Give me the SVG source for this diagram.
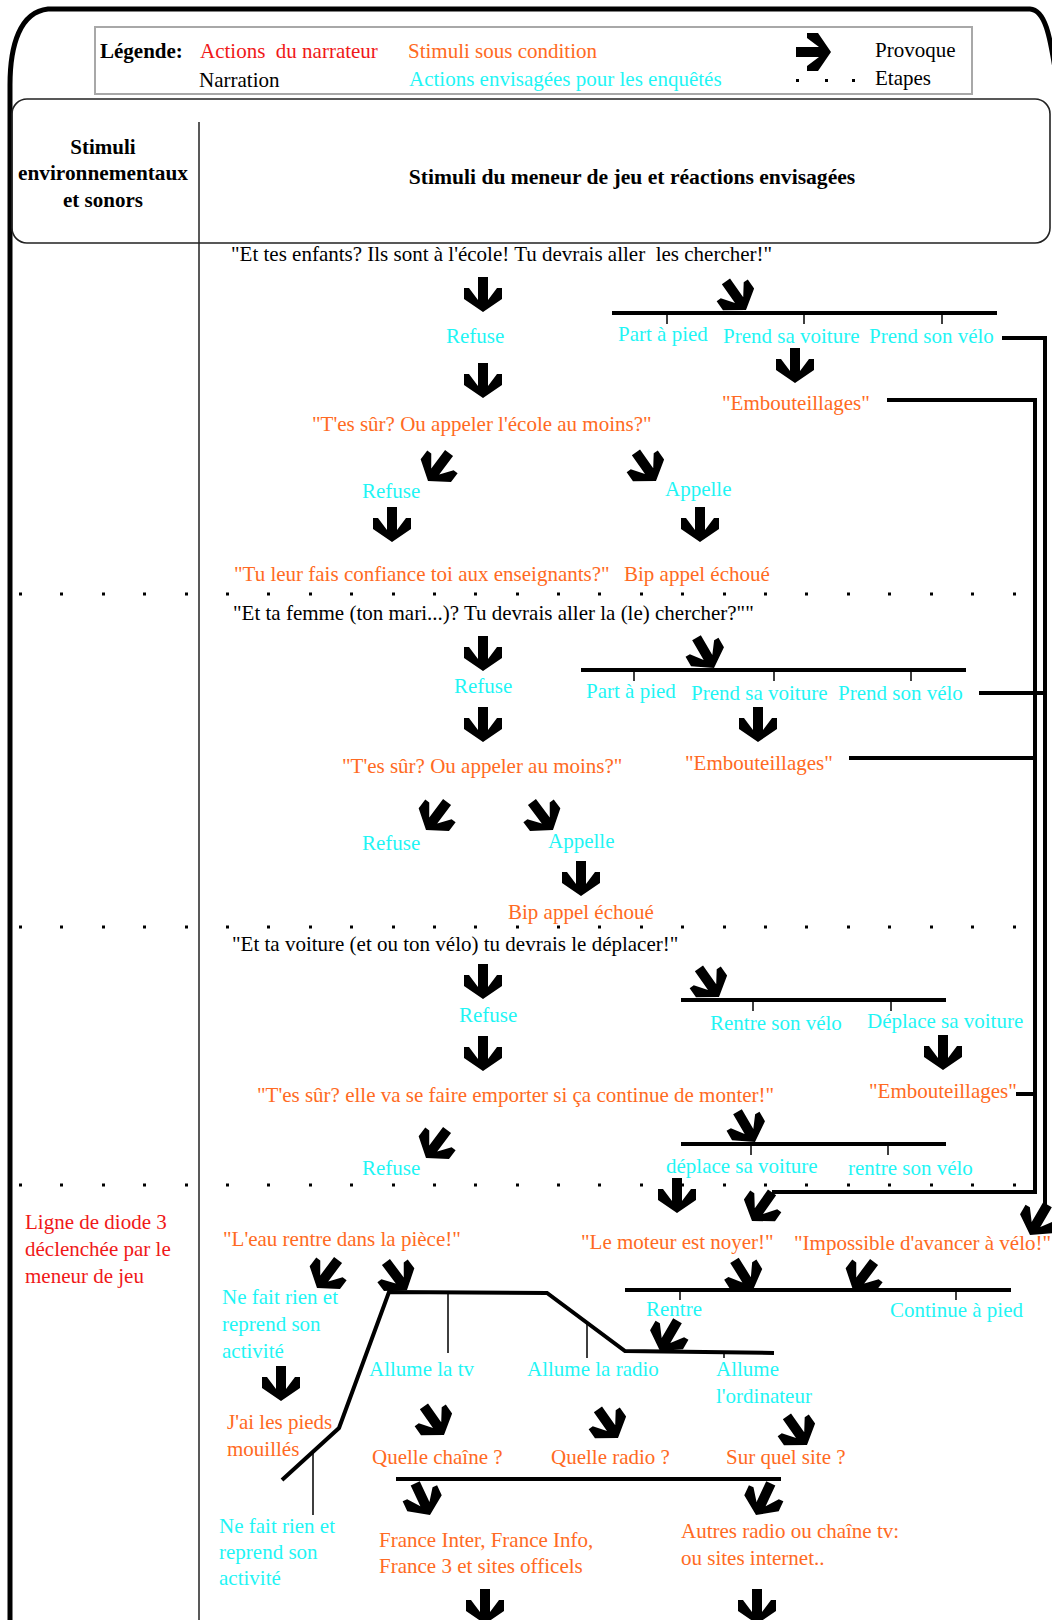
<svg xmlns="http://www.w3.org/2000/svg" width="1052" height="1620" viewBox="0 0 1052 1620">
<style>
text{font-family:"Liberation Serif","Times New Roman",serif;font-size:21px}
.k{fill:#000}.r{fill:#f01818}.o{fill:#ff6a22}.c{fill:#1ff5f5}.b{font-weight:bold}
.m{text-anchor:middle}
.bar{stroke:#000;stroke-width:4;fill:none}
.tk{stroke:#000;stroke-width:1.5;fill:none}
.cn{stroke:#000;stroke-width:4;fill:none;stroke-linejoin:miter}
.dot{fill:#000}
</style>
<defs>
<path id="ar" d="M-5,-35 H5 V-12 L14,-24 H19 V-13 L0,0 L-19,-13 V-24 H-14 L-5,-12 Z" fill="#000"/>
<g id="dots"><rect x="19" y="-1.5" width="3" height="3"/><rect x="60" y="-1.5" width="3" height="3"/><rect x="102" y="-1.5" width="3" height="3"/><rect x="143" y="-1.5" width="3" height="3"/><rect x="185" y="-1.5" width="3" height="3"/><rect x="226" y="-1.5" width="3" height="3"/><rect x="267" y="-1.5" width="3" height="3"/><rect x="309" y="-1.5" width="3" height="3"/><rect x="350" y="-1.5" width="3" height="3"/><rect x="392" y="-1.5" width="3" height="3"/><rect x="433" y="-1.5" width="3" height="3"/><rect x="474" y="-1.5" width="3" height="3"/><rect x="516" y="-1.5" width="3" height="3"/><rect x="557" y="-1.5" width="3" height="3"/><rect x="598" y="-1.5" width="3" height="3"/><rect x="640" y="-1.5" width="3" height="3"/><rect x="681" y="-1.5" width="3" height="3"/><rect x="723" y="-1.5" width="3" height="3"/><rect x="764" y="-1.5" width="3" height="3"/><rect x="805" y="-1.5" width="3" height="3"/><rect x="847" y="-1.5" width="3" height="3"/><rect x="888" y="-1.5" width="3" height="3"/><rect x="930" y="-1.5" width="3" height="3"/><rect x="971" y="-1.5" width="3" height="3"/><rect x="1013" y="-1.5" width="3" height="3"/></g>
</defs>
<rect width="1052" height="1620" fill="#fff"/>

<g id="frame">
<path d="M10,1625 L10,85 C10,45 20,12 48,9 L1030,9 C1045,10 1050,35 1056,75" fill="none" stroke="#000" stroke-width="5"/>
<rect x="12" y="99" width="1038" height="144" rx="15" fill="none" stroke="#222" stroke-width="1.6"/>
<line x1="199" y1="122" x2="199" y2="1620" stroke="#222" stroke-width="1.5"/>
</g>

<g id="legend">
<rect x="95" y="27" width="877" height="67" fill="#fff" stroke="#a8a8a8" stroke-width="2"/>
<text x="100" y="58" class="k b">Légende:</text>
<text x="200" y="58" class="r" xml:space="preserve">Actions  du narrateur</text>
<text x="408" y="58" class="o">Stimuli sous condition</text>
<text x="199" y="87" class="k">Narration</text>
<text x="409" y="86" class="c">Actions envisagées pour les enquêtés</text>
<use href="#ar" transform="translate(831,52) rotate(-90)"/>
<rect x="796" y="79" width="3" height="3" class="dot"/><rect x="825" y="79" width="3" height="3" class="dot"/><rect x="852" y="79" width="3" height="3" class="dot"/>
<text x="875" y="57" class="k">Provoque</text>
<text x="875" y="85" class="k">Etapes</text>
</g>

<g id="header">
<text x="103" y="154" class="k b m">Stimuli</text>
<text x="103" y="180" class="k b m" style="font-size:21.3px">environnementaux</text>
<text x="103" y="207" class="k b m">et sonors</text>
<text x="632" y="184" class="k b m" style="font-size:21.6px">Stimuli du meneur de jeu et réactions envisagées</text>
</g>

<g id="steps">
<use href="#dots" y="594"/>
<use href="#dots" y="927"/>
<use href="#dots" y="1185"/>
</g>

<g id="s1">
<text id="n1" x="231" y="261" class="k" xml:space="preserve">"Et tes enfants? Ils sont à l'école! Tu devrais aller  les chercher!"</text>
<text id="n2" x="446" y="343" class="c">Refuse</text>
<text id="n3" x="618" y="341" class="c">Part à pied</text>
<text id="n4" x="723" y="343" class="c">Prend sa voiture</text>
<text id="n5" x="869" y="343" class="c">Prend son vélo</text>
<text id="n6" x="722" y="410" class="o">"Embouteillages"</text>
<text id="n7" x="312" y="431" class="o">"T'es sûr? Ou appeler l'école au moins?"</text>
<text id="n8" x="362" y="498" class="c">Refuse</text>
<text id="n9" x="665" y="496" class="c">Appelle</text>
<text id="n10" x="234" y="581" class="o">"Tu leur fais confiance toi aux enseignants?"</text>
<text id="n11" x="624" y="581" class="o">Bip appel échoué</text>
</g>

<g id="s2">
<text id="n12" x="233" y="620" class="k">"Et ta femme (ton mari...)? Tu devrais aller la (le) chercher?""</text>
<text id="n13" x="454" y="693" class="c">Refuse</text>
<text id="n14" x="586" y="698" class="c">Part à pied</text>
<text id="n15" x="691" y="700" class="c">Prend sa voiture</text>
<text id="n16" x="838" y="700" class="c">Prend son vélo</text>
<text id="n17" x="342" y="773" class="o">"T'es sûr? Ou appeler au moins?"</text>
<text id="n18" x="685" y="770" class="o">"Embouteillages"</text>
<text id="n19" x="362" y="850" class="c">Refuse</text>
<text id="n20" x="548" y="848" class="c">Appelle</text>
<text id="n21" x="508" y="919" class="o">Bip appel échoué</text>
</g>

<g id="s3">
<text id="n22" x="232" y="951" class="k">"Et ta voiture (et ou ton vélo) tu devrais le déplacer!"</text>
<text id="n23" x="459" y="1022" class="c">Refuse</text>
<text id="n24" x="710" y="1030" class="c">Rentre son vélo</text>
<text id="n25" x="867" y="1028" class="c">Déplace sa voiture</text>
<text id="n26" x="257" y="1102" class="o">"T'es sûr? elle va se faire emporter si ça continue de monter!"</text>
<text id="n27" x="869" y="1098" class="o">"Embouteillages"</text>
<text id="n28" x="362" y="1175" class="c">Refuse</text>
<text id="n29" x="666" y="1173" class="c">déplace sa voiture</text>
<text id="n30" x="848" y="1175" class="c">rentre son vélo</text>
</g>

<g id="s4">
<g id="n31"><text x="25" y="1229" class="r">Ligne de diode 3</text><text x="25" y="1256" class="r">déclenchée par le</text><text x="25" y="1283" class="r">meneur de jeu</text></g>
<text id="n32" x="223" y="1246" class="o">"L'eau rentre dans la pièce!"</text>
<text id="n33" x="581" y="1249" class="o">"Le moteur est noyer!"</text>
<text id="n34" x="794" y="1250" class="o">"Impossible d'avancer à vélo!"</text>
<g id="n35"><text x="222" y="1304" class="c">Ne fait rien et</text><text x="222" y="1331" class="c">reprend son</text><text x="222" y="1358" class="c">activité</text></g>
<text id="n36" x="646" y="1316" class="c">Rentre</text>
<text id="n37" x="890" y="1317" class="c">Continue à pied</text>
<text id="n38" x="369" y="1376" class="c">Allume la tv</text>
<text id="n39" x="527" y="1376" class="c">Allume la radio</text>
<g id="n40"><text x="716" y="1376" class="c">Allume</text><text x="716" y="1403" class="c">l'ordinateur</text></g>
<g id="n41"><text x="227" y="1429" class="o">J'ai les pieds</text><text x="227" y="1456" class="o">mouillés</text></g>
<text id="n42" x="372" y="1464" class="o">Quelle chaîne ?</text>
<text id="n43" x="551" y="1464" class="o">Quelle radio ?</text>
<text id="n44" x="726" y="1464" class="o">Sur quel site ?</text>
<g id="n45"><text x="219" y="1533" class="c">Ne fait rien et</text><text x="219" y="1559" class="c">reprend son</text><text x="219" y="1585" class="c">activité</text></g>
<g id="n46"><text x="379" y="1547" class="o">France Inter, France Info,</text><text x="379" y="1573" class="o">France 3 et sites officels</text></g>
<g id="n47"><text x="681" y="1538" class="o">Autres radio ou chaîne tv:</text><text x="681" y="1565" class="o">ou sites internet..</text></g>
</g>

<g id="connectors">
<path class="bar" d="M612,313 H997"/>
<path class="tk" d="M667,313 V324 M804,313 V324 M942,313 V324"/>
<path class="bar" d="M581,670 H966"/>
<path class="tk" d="M634,670 V681 M774,670 V681 M911,670 V681"/>
<path class="bar" d="M681,1000 H946"/>
<path class="tk" d="M753,1000 V1011 M891,1000 V1011"/>
<path class="bar" d="M681,1144 H946"/>
<path class="tk" d="M751,1144 V1155 M888,1144 V1155"/>
<path class="bar" d="M625,1290 H1011"/>
<path class="tk" d="M680,1290 V1300 M956,1290 V1300"/>
<path class="bar" d="M282,1480 L339,1428 L389,1292 L547,1293 L625,1351 L774,1353"/>
<path class="tk" d="M448,1293 V1353 M587,1323 V1358 M724,1351 V1358 M313,1453 V1515"/>
<path class="bar" d="M396,1479 H781"/>
<path class="cn" d="M1002,338 H1045 V1208"/>
<path class="cn" d="M887,400 H1035 V1192 H772"/>
<path class="cn" d="M979,693 H1045"/>
<path class="cn" d="M849,758 H1035"/>
<path class="cn" d="M1016,1094 H1035"/>
<use href="#ar" transform="translate(483,312)"/>
<use href="#ar" transform="translate(746,310) rotate(-35)"/>
<use href="#ar" transform="translate(483,398)"/>
<use href="#ar" transform="translate(795,383)"/>
<use href="#ar" transform="translate(428,481) rotate(37)"/>
<use href="#ar" transform="translate(656,481) rotate(-35)"/>
<use href="#ar" transform="translate(392,542)"/>
<use href="#ar" transform="translate(700,542)"/>

<use href="#ar" transform="translate(483,671)"/>
<use href="#ar" transform="translate(714,668) rotate(-30)"/>
<use href="#ar" transform="translate(483,742)"/>
<use href="#ar" transform="translate(758,742)"/>
<use href="#ar" transform="translate(426,830) rotate(37)"/>
<use href="#ar" transform="translate(553,830) rotate(-37)"/>
<use href="#ar" transform="translate(581,896)"/>

<use href="#ar" transform="translate(483,999)"/>
<use href="#ar" transform="translate(719,997) rotate(-35)"/>
<use href="#ar" transform="translate(483,1071)"/>
<use href="#ar" transform="translate(943,1070)"/>
<use href="#ar" transform="translate(426,1158) rotate(37)"/>
<use href="#ar" transform="translate(755,1142) rotate(-30)"/>

<use href="#ar" transform="translate(677,1213)"/>
<use href="#ar" transform="translate(752,1221) rotate(35)"/>
<use href="#ar" transform="translate(1030,1235) rotate(30)"/>
<use href="#ar" transform="translate(317,1288) rotate(37)"/>
<use href="#ar" transform="translate(407,1290) rotate(-37)"/>
<use href="#ar" transform="translate(753,1290) rotate(-32)"/>
<use href="#ar" transform="translate(853,1290) rotate(37)"/>
<use href="#ar" transform="translate(660,1351) rotate(30)"/>
<use href="#ar" transform="translate(281,1401)"/>
<use href="#ar" transform="translate(444,1435) rotate(-35)"/>
<use href="#ar" transform="translate(618,1438) rotate(-35)"/>
<use href="#ar" transform="translate(807,1445) rotate(-35)"/>
<use href="#ar" transform="translate(430,1515) rotate(-25)"/>
<use href="#ar" transform="translate(756,1515) rotate(25)"/>
<use href="#ar" transform="translate(485,1624)"/>
<use href="#ar" transform="translate(757,1624)"/>
</g>
</svg>
